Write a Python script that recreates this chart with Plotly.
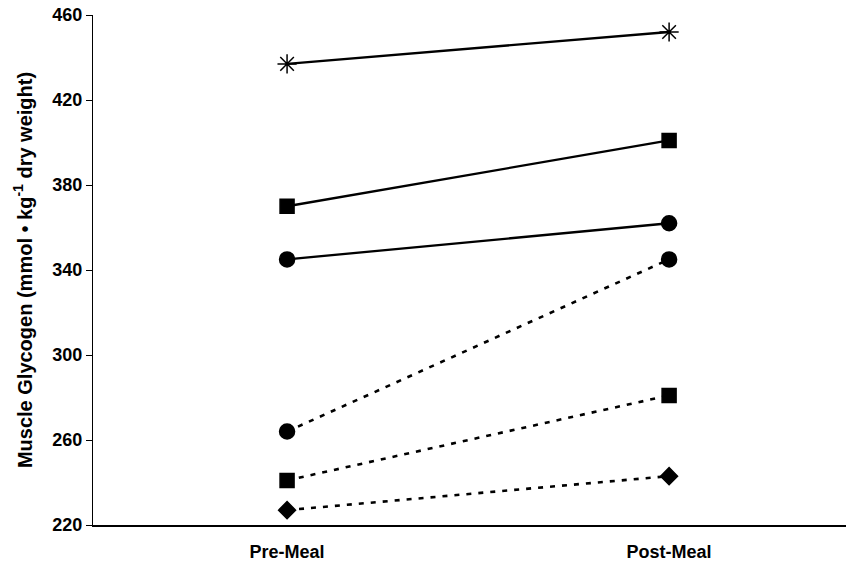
import plotly.graph_objects as go

categories = ["Pre-Meal", "Post-Meal"]
asterisk_solid = [437, 452]
square_solid = [370, 401]
circle_solid = [345, 362]
circle_dashed = [264, 345]
square_dashed = [241, 281]
diamond_dashed = [227, 243]

series = [
    (asterisk_solid, "asterisk-open", 16, "solid"),
    (square_solid, "square", 14, "solid"),
    (circle_solid, "circle", 15, "solid"),
    (circle_dashed, "circle", 15, "5px,7px"),
    (square_dashed, "square", 14, "5px,7px"),
    (diamond_dashed, "diamond", 13, "5px,7px"),
]

fig = go.Figure()
for vals, sym, size, dash in series:
    fig.add_trace(go.Scatter(
        x=categories, y=vals, mode="lines+markers",
        line=dict(color="black", width=2.3 if dash == "solid" else 2.6, dash=dash),
        marker=dict(symbol=sym, size=size, color="black",
                    line=dict(color="black", width=1.5)),
        showlegend=False,
    ))

# page body has a default 8px margin; compensate so plot sits at reference pixels
fig.update_layout(
    width=846, height=559,
    margin=dict(l=85, r=0, t=7, b=42),
    paper_bgcolor="white", plot_bgcolor="white",
    font=dict(family="Liberation Sans, Arial, sans-serif", color="black"),
)
fig.update_xaxes(
    type="category", range=[-0.508, 1.484], automargin=False,
    showline=True, linecolor="black", linewidth=1.5,
    showgrid=False, zeroline=False,
    ticks="outside", ticklen=10, tickcolor="rgba(0,0,0,0)",
    tickfont=dict(size=18, family="Liberation Sans, Arial, sans-serif", weight="bold"),
)
fig.update_yaxes(
    range=[220, 460], tickvals=[220, 260, 300, 340, 380, 420, 460],
    automargin=False, ticklabeloverflow="allow",
    showline=True, linecolor="black", linewidth=1.2,
    showgrid=False, zeroline=False,
    ticks="outside", ticklen=6, tickcolor="black",
    tickfont=dict(size=18, weight="bold"),
    title=dict(text="Muscle Glycogen (mmol • kg<sup>-1</sup> dry weight)",
               font=dict(size=20, weight="bold"), standoff=14),
)
fig.write_html("out.html")
